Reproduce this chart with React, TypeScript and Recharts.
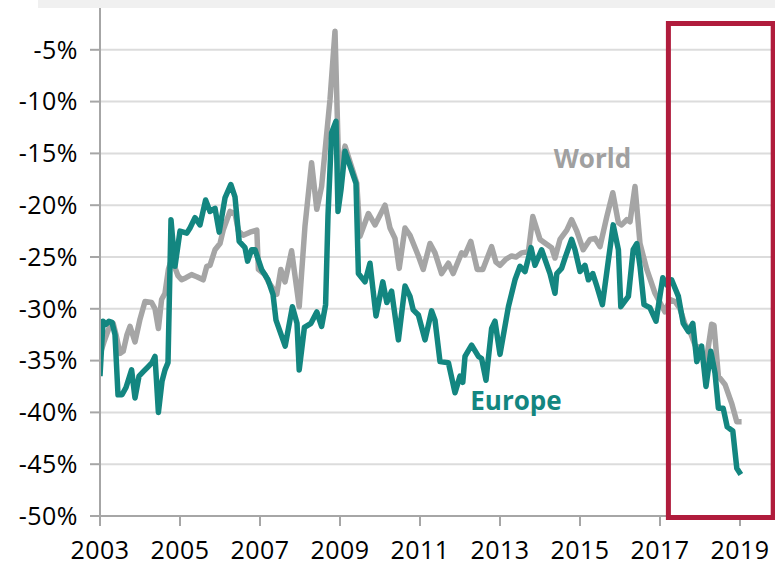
import React from 'react';
import { LineChart, Line, XAxis, YAxis, CartesianGrid, ReferenceArea, ReferenceDot } from 'recharts';

const yearTicks = [2003, 2005, 2007, 2009, 2011, 2013, 2015, 2017, 2019];
const pctTicks = [-50, -45, -40, -35, -30, -25, -20, -15, -10, -5];

const europeYears = [
  2003.0, 2003.075, 2003.15, 2003.225, 2003.3, 2003.375, 2003.45, 2003.55, 2003.65, 2003.79,
  2003.875, 2003.975, 2004.1, 2004.2, 2004.3, 2004.375, 2004.46, 2004.55, 2004.625, 2004.7,
  2004.775, 2004.875, 2005.0, 2005.17, 2005.25, 2005.375, 2005.5, 2005.64, 2005.75, 2005.875,
  2005.98, 2006.125, 2006.27, 2006.375, 2006.48, 2006.625, 2006.69, 2006.79, 2006.875, 2007.04,
  2007.2, 2007.325, 2007.4, 2007.63, 2007.81, 2007.925, 2007.98, 2008.11, 2008.275, 2008.42,
  2008.54, 2008.64, 2008.7, 2008.79, 2008.9, 2008.95, 2009.025, 2009.125, 2009.25, 2009.4,
  2009.46, 2009.625, 2009.75, 2009.9, 2010.07, 2010.17, 2010.29, 2010.46, 2010.625, 2010.75,
  2010.83, 2010.96, 2011.125, 2011.29, 2011.375, 2011.5, 2011.71, 2011.875, 2012.0, 2012.07,
  2012.125, 2012.29, 2012.46, 2012.54, 2012.65, 2012.79, 2012.875, 2013.0, 2013.21, 2013.375,
  2013.5, 2013.625, 2013.775, 2013.875, 2014.04, 2014.25, 2014.375, 2014.42, 2014.54, 2014.625,
  2014.79, 2014.875, 2015.0, 2015.125, 2015.21, 2015.32, 2015.42, 2015.56, 2015.71, 2015.83,
  2015.96, 2016.02, 2016.21, 2016.33, 2016.42, 2016.5, 2016.6, 2016.75, 2016.9, 2017.07,
  2017.17, 2017.29, 2017.46, 2017.58, 2017.71, 2017.82, 2017.92, 2018.04, 2018.15, 2018.27,
  2018.375, 2018.46, 2018.58, 2018.68, 2018.82, 2018.92, 2019.02,
];
const europeValues = [
  -36.5, -31.2, -31.5, -31.2, -31.3, -32.5, -38.3, -38.3, -37.6, -35.9,
  -38.6, -36.5, -36.0, -35.6, -35.2, -34.6, -40.0, -37.0, -35.9, -35.2,
  -21.4, -25.9, -22.5, -22.7, -22.2, -21.2, -21.9, -19.5, -20.6, -20.3,
  -22.6, -19.3, -18.0, -19.2, -23.5, -24.1, -25.4, -24.3, -24.3, -26.2,
  -27.2, -28.6, -31.1, -33.6, -29.8, -31.4, -35.9, -31.8, -31.4, -30.3,
  -31.7, -29.6, -21.0, -13.0, -11.9, -20.6, -18.5, -14.8, -16.2, -17.9,
  -26.6, -27.4, -25.6, -30.7, -27.4, -29.4, -28.3, -33.0, -27.8, -28.8,
  -30.1, -30.6, -33.0, -30.2, -31.1, -35.1, -35.2, -38.1, -36.5, -37.1,
  -34.6, -33.5, -34.6, -34.8, -36.9, -31.9, -31.2, -34.4, -29.8, -27.2,
  -25.9, -26.4, -24.1, -25.8, -24.3, -26.6, -28.5, -26.6, -26.1, -25.1,
  -23.3, -24.3, -26.4, -25.8, -27.2, -26.6, -27.8, -29.6, -25.3, -21.9,
  -24.3, -29.8, -28.8, -24.3, -23.7, -25.9, -29.6, -29.9, -31.2, -27.0,
  -27.7, -27.2, -28.8, -31.4, -32.2, -31.4, -35.1, -33.6, -37.5, -34.1,
  -36.2, -39.6, -39.6, -41.4, -41.8, -45.4, -46.0,
];

const worldYears = [
  2003.0, 2003.1, 2003.21, 2003.33, 2003.4, 2003.5, 2003.58, 2003.675, 2003.75, 2003.875,
  2004.0, 2004.125, 2004.29, 2004.375, 2004.46, 2004.54, 2004.625, 2004.71, 2004.775, 2004.85,
  2004.95, 2005.04, 2005.15, 2005.29, 2005.42, 2005.58, 2005.67, 2005.75, 2005.875, 2006.0,
  2006.08, 2006.25, 2006.375, 2006.46, 2006.58, 2006.75, 2006.92, 2006.96, 2007.125, 2007.21,
  2007.42, 2007.52, 2007.625, 2007.79, 2007.98, 2008.125, 2008.29, 2008.42, 2008.54, 2008.75,
  2008.875, 2008.975, 2009.125, 2009.42, 2009.5, 2009.71, 2009.875, 2010.125, 2010.25, 2010.375,
  2010.48, 2010.625, 2010.75, 2010.96, 2011.08, 2011.25, 2011.375, 2011.54, 2011.71, 2011.83,
  2012.04, 2012.125, 2012.27, 2012.43, 2012.57, 2012.79, 2012.9, 2013.0, 2013.15, 2013.29,
  2013.4, 2013.54, 2013.71, 2013.82, 2014.0, 2014.29, 2014.375, 2014.5, 2014.67, 2014.79,
  2014.92, 2015.08, 2015.25, 2015.375, 2015.5, 2015.67, 2015.82, 2015.96, 2016.04, 2016.17,
  2016.25, 2016.375, 2016.5, 2016.67, 2016.875, 2017.125, 2017.25, 2017.375, 2017.5, 2017.625,
  2017.75, 2017.875, 2018.0, 2018.15, 2018.29, 2018.35, 2018.46, 2018.625, 2018.79, 2018.92,
  2019.04,
];
const worldValues = [
  -34.4, -33.2, -32.0, -31.4, -32.5, -34.3, -34.1, -32.5, -31.7, -33.2,
  -31.0, -29.3, -29.4, -30.0, -31.9, -29.1, -28.5, -26.2, -25.4, -25.8,
  -26.8, -27.2, -27.0, -26.7, -26.9, -27.2, -25.9, -25.8, -24.3, -23.7,
  -22.4, -20.6, -20.8, -22.5, -22.9, -22.6, -22.4, -26.2, -26.7, -27.4,
  -28.6, -26.2, -27.4, -24.4, -29.8, -22.0, -15.9, -20.4, -18.2, -9.8,
  -3.2, -17.5, -14.3, -17.9, -23.0, -20.8, -21.9, -20.0, -22.2, -23.2,
  -26.1, -22.2, -22.9, -24.9, -26.2, -23.7, -24.6, -26.6, -25.6, -26.6,
  -24.6, -24.8, -23.5, -26.2, -26.2, -24.0, -25.5, -25.8, -25.2, -24.9,
  -25.0, -24.6, -24.5, -21.1, -23.3, -24.1, -25.1, -23.3, -22.4, -21.4,
  -22.5, -24.3, -23.3, -23.2, -24.0, -21.1, -18.8, -21.7, -21.9, -21.4,
  -21.6, -18.2, -23.7, -26.2, -28.5, -30.3, -29.1, -29.3, -30.0, -31.5,
  -32.2, -33.5, -33.8, -35.2, -31.5, -31.6, -36.5, -37.3, -39.1, -40.9,
  -40.9,
];

const highlightYears = [2017.21, 2019.83];
const highlightPct = [-50.15, -2.45];

const europeData = europeYears.map((x, i) => ({ x, y: europeValues[i] }));
const worldData = worldYears.map((x, i) => ({ x, y: worldValues[i] }));

const FONT = '"Open Sans", "Segoe UI", sans-serif';
const AXIS = '#a6a6a6';

export default function App() {
  return (
    <div
      style={{
        position: 'fixed',
        left: 0,
        top: 0,
        width: 775,
        height: 566,
        overflow: 'hidden',
        background: '#ffffff',
        fontFamily: FONT,
      }}
    >
      <div style={{ position: 'absolute', left: 0, top: -12 }}>
        <LineChart width={790} height={578} margin={{ top: 10, right: 10, bottom: 0, left: 0 }}>
          <CartesianGrid horizontal vertical={false} stroke="#dcdcdc" strokeWidth={2} />
          <XAxis
            type="number"
            dataKey="x"
            domain={[2003, 2020]}
            ticks={yearTicks}
            interval={0}
            allowDataOverflow
            height={50}
            tickSize={10}
            tickMargin={15}
            axisLine={{ stroke: AXIS, strokeWidth: 2 }}
            tickLine={{ stroke: AXIS, strokeWidth: 2 }}
            tick={{ fill: '#000', fontSize: 25, fontFamily: FONT, letterSpacing: 0.5 }}
          />
          <YAxis
            type="number"
            domain={[-50, 0]}
            ticks={pctTicks}
            interval={0}
            allowDataOverflow
            width={100}
            tickSize={10}
            tickMargin={12}
            tickFormatter={(v: number) => `${v}%`}
            axisLine={{ stroke: AXIS, strokeWidth: 2 }}
            tickLine={{ stroke: AXIS, strokeWidth: 2 }}
            tick={{ fill: '#000', fontSize: 25, fontFamily: FONT, letterSpacing: 0.5 }}
          />
          <Line
            data={worldData}
            dataKey="y"
            type="linear"
            stroke="#a5a5a5"
            strokeWidth={5.5}
            strokeLinejoin="round"
            dot={false}
            isAnimationActive={false}
          />
          <Line
            data={europeData}
            dataKey="y"
            type="linear"
            stroke="#138680"
            strokeWidth={5.5}
            strokeLinejoin="round"
            dot={false}
            isAnimationActive={false}
          />
          <ReferenceArea
            x1={highlightYears[0]}
            x2={highlightYears[1]}
            y1={highlightPct[0]}
            y2={highlightPct[1]}
            fill="none"
            fillOpacity={0}
            stroke="#b01c3c"
            strokeWidth={5}
            ifOverflow="visible"
            zIndex={1000}
          />
          <ReferenceDot
            x={2015.31}
            y={-15.5}
            r={0}
            fill="none"
            stroke="none"
            ifOverflow="visible"
            label={{ value: 'World', position: 'center', fill: '#a0a0a0', fontSize: 26, fontWeight: 700, fontFamily: FONT }}
          />
          <ReferenceDot
            x={2013.4}
            y={-38.9}
            r={0}
            fill="none"
            stroke="none"
            ifOverflow="visible"
            label={{ value: 'Europe', position: 'center', fill: '#138680', fontSize: 26, fontWeight: 700, fontFamily: FONT }}
          />
        </LineChart>
      </div>
      <div style={{ position: 'absolute', left: 38, top: 0, width: 737, height: 8, background: '#f0f0f0' }} />
    </div>
  );
}
